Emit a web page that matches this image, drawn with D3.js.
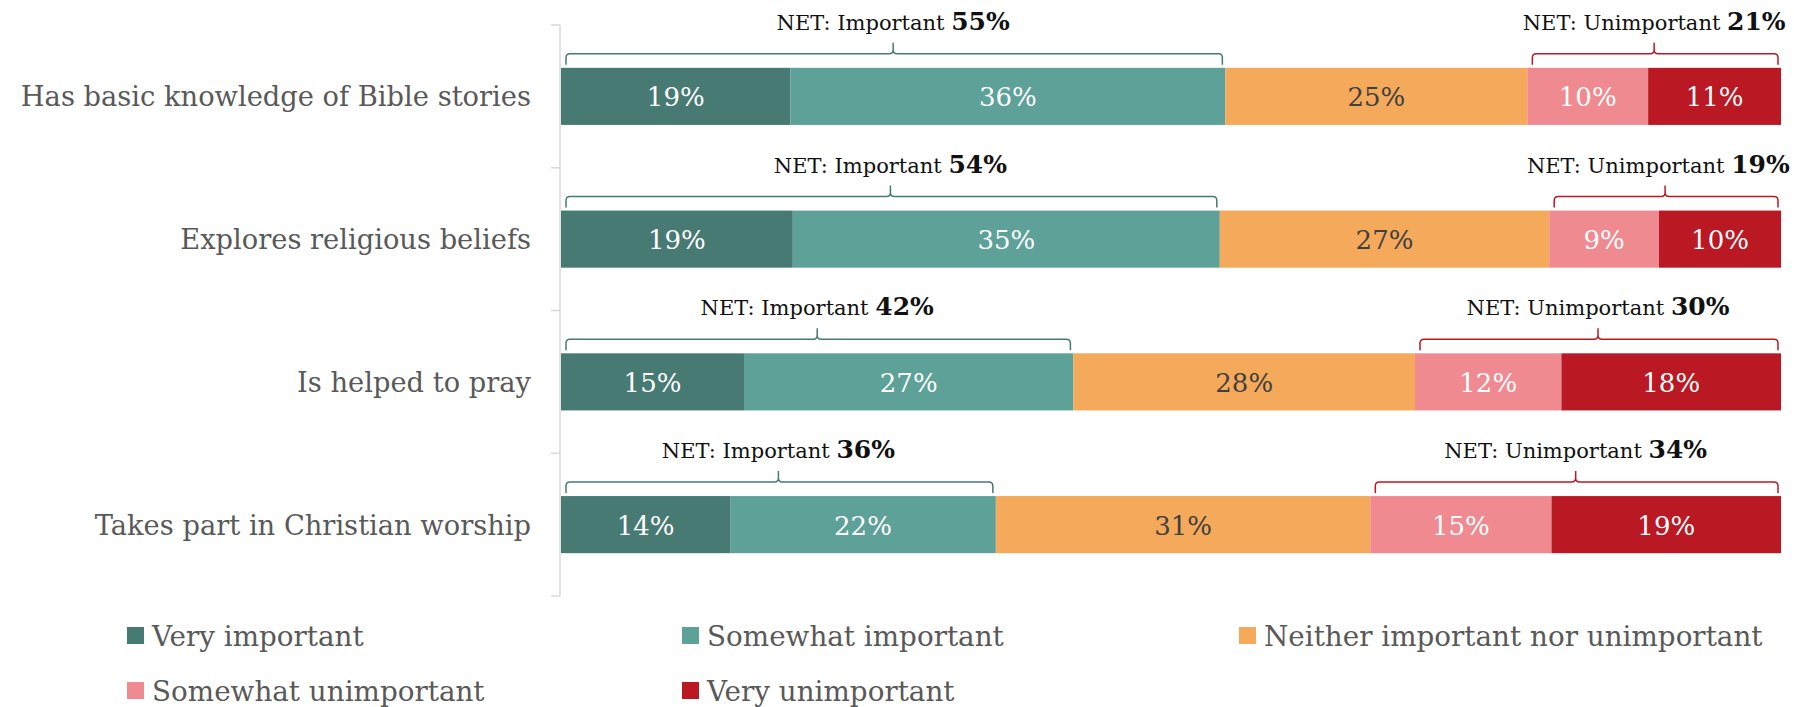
<!DOCTYPE html>
<html>
<head>
<meta charset="utf-8">
<script src="https://cdn.jsdelivr.net/npm/d3@7"></script>
<style>
  html, body { margin: 0; padding: 0; background: #ffffff; }
  svg { display: block; }
  text { font-family: "DejaVu Serif", "Liberation Serif", serif; }
</style>
</head>
<body>
<svg id="chart" width="1794" height="707"></svg>
<script>
// Survey statements (one bar each)
const categories = [
  "Has basic knowledge of Bible stories",
  "Explores religious beliefs",
  "Is helped to pray",
  "Takes part in Christian worship"
];

// Response options, in stacking order
const seriesNames = [
  "Very important",
  "Somewhat important",
  "Neither important nor unimportant",
  "Somewhat unimportant",
  "Very unimportant"
];

// Share of responses (%) per statement
const veryImportant       = [19, 19, 15, 14];
const somewhatImportant   = [36, 35, 27, 22];
const neither             = [25, 27, 28, 31];
const somewhatUnimportant = [10,  9, 12, 15];
const veryUnimportant     = [11, 10, 18, 19];

const seriesColors = ["#477A73", "#5DA199", "#F5A95A", "#F08A91", "#BA1823"];
const labelColors  = ["#ffffff", "#ffffff", "#404040", "#ffffff", "#ffffff"];

const seriesValues = [veryImportant, somewhatImportant, neither, somewhatUnimportant, veryUnimportant];

// Build rows for d3.stack
const rows = categories.map((c, i) => {
  const r = { category: c };
  seriesNames.forEach((s, j) => { r[s] = seriesValues[j][i]; });
  return r;
});

const stacked = d3.stack()
  .keys(seriesNames)
  .offset(d3.stackOffsetExpand)(rows);

const svg = d3.select("#chart");

const x = d3.scaleLinear().domain([0, 1]).range([561, 1781]);
const y = d3.scaleBand()
  .domain(categories)
  .range([25, 596])
  .paddingInner(0.6)
  .paddingOuter(0.3);

// Category axis: vertical rule with ticks between categories
const axisX = 560;
const axisG = svg.append("g").attr("class", "axis");
axisG.append("line")
  .attr("x1", axisX).attr("x2", axisX)
  .attr("y1", y.range()[0]).attr("y2", y.range()[1])
  .attr("stroke", "#d9d9d9").attr("stroke-width", 1.5);
axisG.selectAll("line.tick")
  .data(d3.range(categories.length + 1))
  .join("line")
  .attr("class", "tick")
  .attr("x1", axisX - 9).attr("x2", axisX)
  .attr("y1", i => y.range()[0] + i * y.step())
  .attr("y2", i => y.range()[0] + i * y.step())
  .attr("stroke", "#d9d9d9").attr("stroke-width", 1.5);

axisG.selectAll("text.cat")
  .data(categories)
  .join("text")
  .attr("class", "cat")
  .attr("x", 531)
  .attr("y", d => y(d) + y.bandwidth() / 2 + 10)
  .attr("text-anchor", "end")
  .attr("font-size", 27.3)
  .attr("fill", "#595959")
  .text(d => d);

// Stacked bar segments
const layers = svg.append("g").selectAll("g.layer")
  .data(stacked)
  .join("g")
  .attr("class", "layer")
  .attr("fill", (d, i) => seriesColors[i]);

layers.selectAll("rect")
  .data(d => d)
  .join("rect")
  .attr("x", d => x(d[0]))
  .attr("y", d => y(d.data.category))
  .attr("width", d => x(d[1]) - x(d[0]))
  .attr("height", y.bandwidth());

// Value labels centred in each segment
const labelG = svg.append("g");
stacked.forEach((layer, si) => {
  labelG.selectAll(null)
    .data(layer)
    .join("text")
    .attr("x", d => (x(d[0]) + x(d[1])) / 2)
    .attr("y", d => y(d.data.category) + y.bandwidth() / 2 + 10)
    .attr("text-anchor", "middle")
    .attr("font-size", 26)
    .attr("fill", labelColors[si])
    .text(d => d.data[layer.key] + "%");
});

// NET brackets above each bar
function bracketPath(x0, x1, bt) {
  const cx = (x0 + x1) / 2;
  const a = x0 + 5, b = x1 - 3, h = bt - 14;
  return `M${a},${bt - 3} V${h + 4} Q${a},${h} ${a + 4},${h} H${cx - 4} Q${cx},${h} ${cx},${h - 4} V${h - 11}` +
         ` M${cx},${h - 4} Q${cx},${h} ${cx + 4},${h} H${b - 4} Q${b},${h} ${b},${h + 4} V${bt - 3}`;
}

const nets = [
  { name: "NET: Important ", from: 0, to: 2, color: "#477A73" },
  { name: "NET: Unimportant ", from: 3, to: 5, color: "#BA1823" }
];

const netG = svg.append("g");
categories.forEach((c, ci) => {
  const bt = y(c);
  nets.forEach(n => {
    const x0 = x(stacked[n.from][ci][0]);
    const x1 = x(stacked[n.to - 1][ci][1]);
    const total = d3.sum(seriesValues.slice(n.from, n.to), v => v[ci]);
    netG.append("path")
      .attr("d", bracketPath(x0, x1, bt))
      .attr("fill", "none")
      .attr("stroke", n.color)
      .attr("stroke-width", 1.5);
    const t = netG.append("text")
      .attr("x", (x0 + x1) / 2)
      .attr("y", bt - 38)
      .attr("text-anchor", "middle")
      .attr("fill", "#111111");
    t.append("tspan").attr("font-size", 21).text(n.name);
    t.append("tspan").attr("font-size", 25).attr("font-weight", "bold").text(total + "%");
    // keep label inside the drawing area
    const bb = t.node().getBBox();
    const maxRight = 1790;
    if (bb.x + bb.width > maxRight) {
      t.attr("x", (x0 + x1) / 2 - (bb.x + bb.width - maxRight));
    }
  });
});

// Legend
const legendG = svg.append("g");
const legendCols = [127, 682, 1239];
const legendRows = [646, 701];
seriesNames.forEach((s, i) => {
  const col = i % 3, row = Math.floor(i / 3);
  const gx = legendCols[col], gy = legendRows[row];
  legendG.append("rect")
    .attr("x", gx).attr("y", gy - 19)
    .attr("width", 17).attr("height", 17)
    .attr("fill", seriesColors[i]);
  legendG.append("text")
    .attr("x", gx + 25).attr("y", gy)
    .attr("font-size", 27.8)
    .attr("fill", "#595959")
    .text(s);
});
</script>
</body>
</html>
